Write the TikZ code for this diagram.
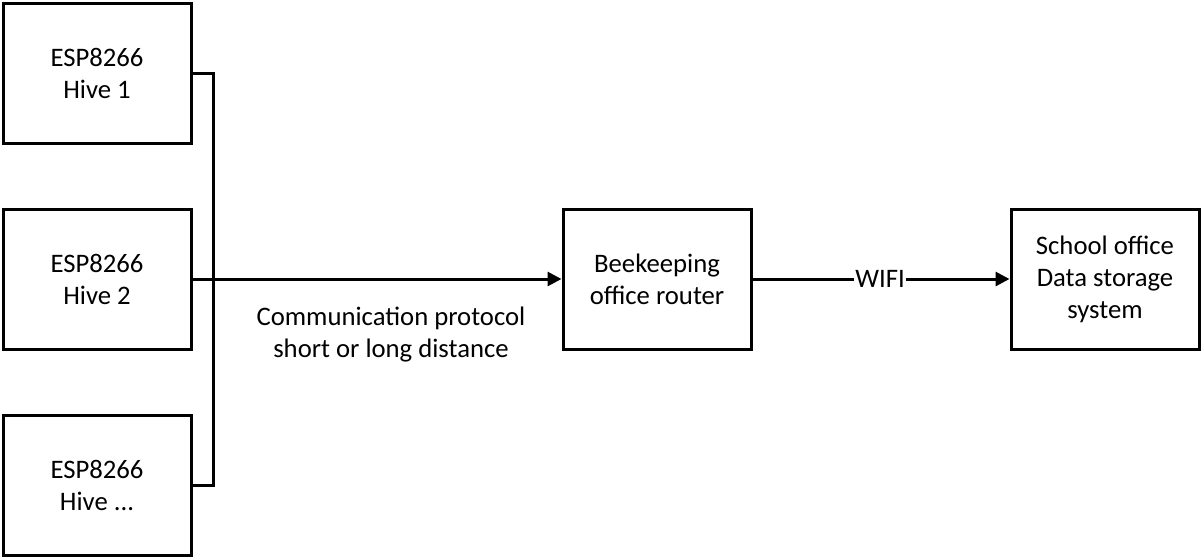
\documentclass[tikz,border=0pt]{standalone}
\usepackage{fontspec}
\setmainfont{Carlito}
\usetikzlibrary{arrows.meta}

\begin{document}
\begin{tikzpicture}[x=1pt,y=-1pt,
  unit/.style={draw,line width=3pt,minimum width=188pt,minimum height=140pt,
    inner sep=0pt,align=center,font=\fontsize{26.7}{32}\selectfont},
  link/.style={line width=3pt},
  head/.style={-{Triangle[length=14pt,width=14pt]}}]
  \useasboundingbox (0,0) rectangle (1202,558);
  \node[unit] (hive1) at (97,73) {ESP8266\\Hive 1};
  \node[unit] (hive2) at (97,279) {ESP8266\\Hive 2};
  \node[unit] (hive3) at (97,485) {ESP8266\\Hive ...};
  \node[unit] (router) at (657,279) {Beekeeping\\office router};
  \node[unit] (store) at (1105,279) {School office\\Data storage\\system};
  \node[align=center,font=\fontsize{26.7}{32}\selectfont] (proto) at (391,335)
    {Communication protocol\\short or long distance};
  \node[font=\fontsize{26.7}{32}\selectfont,inner sep=1pt] (wifi) at (880,279) {WIFI};
  \coordinate (bustop) at (213,73);
  \coordinate (busend) at (213,485);
  % bus from the hives
  \draw[link]
    (hive1.east)
    --
    (bustop)
    --
    (busend)
    --
    (hive3.east);
  \draw[link,head]
    (hive2.east)
    --
    (router.west);
  % wireless link
  \draw[link]
    (router.east)
    --
    (wifi.west);
  \draw[link,head]
    (wifi.east)
    --
    (store.west);
\end{tikzpicture}
\end{document}
